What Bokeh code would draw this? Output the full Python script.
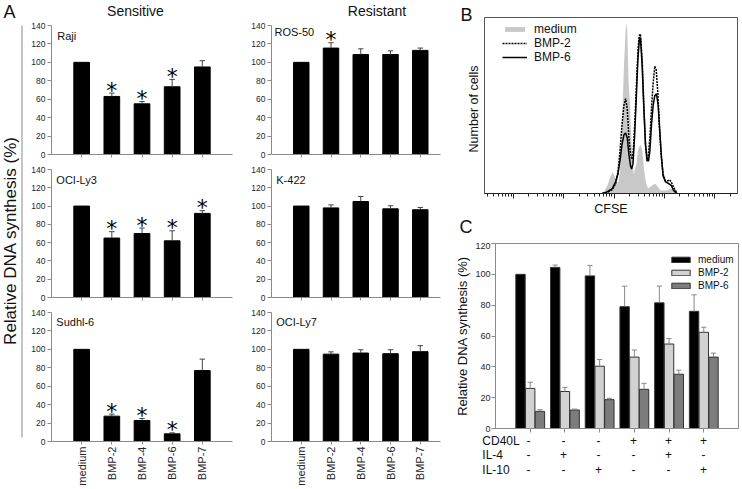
import math
from bokeh.plotting import figure
from bokeh.layouts import row, column
from bokeh.models import (Range1d, FixedTicker, Label, Legend, LegendItem, BoxAnnotation,
                          CustomJSTickFormatter)
from bokeh.embed import file_html
from bokeh.resources import INLINE
from bokeh.core.properties import value

FONT = "Liberation Sans"
GREY_AX = "#8a8a8a"
TXT = "#262626"

# ---------------- Panel A data ----------------
treatments = ["medium", "BMP-2", "BMP-4", "BMP-6", "BMP-7"]
a_ticks = [0, 20, 40, 60, 80, 100, 120, 140]

raji = [100, 63, 55, 73.5, 95]
raji_sd = [0, 3.6, 2.5, 8, 6.8]
raji_sig = [0, 1, 1, 1, 0]

ros50 = [100, 115.5, 108.5, 108.5, 113]
ros50_sd = [0, 5.8, 6.2, 4, 2.5]
ros50_sig = [0, 1, 0, 0, 0]

ocily3 = [100, 65, 70, 62, 92]
ocily3_sd = [0, 7, 6, 11, 3]
ocily3_sig = [0, 1, 1, 1, 1]

k422 = [100, 98, 105, 97, 96]
k422_sd = [0, 3.3, 5.5, 3.4, 2.5]
k422_sig = [0, 0, 0, 0, 0]

sudhl6 = [100, 27.5, 22.8, 8.3, 77]
sudhl6_sd = [0, 2.2, 2.2, 1.1, 12.4]
sudhl6_sig = [0, 1, 1, 1, 0]

ocily7 = [100, 94.8, 96, 95.3, 97.5]
ocily7_sd = [0, 2.5, 3.6, 4.3, 6.5]
ocily7_sig = [0, 0, 0, 0, 0]

# ---------------- Panel B data (log10 CFSE, cell count) ----------------
med_log = [2.730, 2.796, 2.862, 2.928, 2.974, 3.027, 3.073, 3.113, 3.153, 3.192, 3.225, 3.238,
           3.258, 3.285, 3.311, 3.338, 3.364, 3.390, 3.437, 3.476, 3.516, 3.555, 3.595, 3.635,
           3.674, 3.720, 3.773, 3.819, 3.866, 3.918, 3.984, 4.050, 4.130, 4.182, 4.248]
med_cnt = [0, 2, 8, 18, 22, 15, 10, 23, 70, 130, 167, 175,
           167, 113, 93, 57, 30, 20, 30, 45, 50, 45, 23, 10,
           5, 7, 9, 10, 7, 3, 3, 3, 5, 3, 0]

bmp6_log = [2.760, 2.829, 2.895, 2.961, 3.027, 3.073, 3.113, 3.153, 3.192, 3.225, 3.258, 3.291,
            3.324, 3.344, 3.371, 3.403, 3.437, 3.469, 3.503, 3.522, 3.555, 3.588, 3.621, 3.654,
            3.681, 3.707, 3.740, 3.773, 3.806, 3.839, 3.873, 3.906, 3.938, 3.971, 4.017, 4.083,
            4.136, 4.182, 4.248]
bmp6_cnt = [0, 1, 3, 5, 12, 20, 33, 50, 60, 62, 57, 40,
            28, 25, 30, 57, 97, 137, 160, 158, 130, 87, 50, 35,
            33, 43, 70, 90, 100, 102, 90, 63, 37, 18, 12, 10,
            8, 3, 0]

bmp2_log = [2.760, 2.829, 2.895, 2.961, 3.027, 3.073, 3.113, 3.153, 3.192, 3.225, 3.258, 3.291,
            3.324, 3.351, 3.377, 3.410, 3.443, 3.476, 3.503, 3.522, 3.555, 3.588, 3.621, 3.648,
            3.674, 3.707, 3.740, 3.773, 3.806, 3.833, 3.866, 3.899, 3.932, 3.971, 4.017, 4.064,
            4.103, 4.149, 4.196, 4.248]
bmp2_cnt = [0, 0.3, 2, 4, 10, 22, 43, 70, 90, 97, 87, 57,
            40, 35, 43, 73, 113, 150, 163, 162, 137, 90, 50, 33,
            37, 57, 87, 113, 130, 127, 103, 67, 40, 20, 13, 13,
            14, 10, 5, 0]

# ---------------- Panel C data ----------------
c_conditions = [1, 2, 3, 4, 5, 6]
c_medium = [100, 104.5, 99, 79, 81.5, 76]
c_medium_sd = [0, 1.5, 6.8, 13.3, 10.9, 10.7]
c_bmp2 = [26, 24, 40.4, 46.3, 54.8, 62.4]
c_bmp2_sd = [4, 2.7, 4.4, 4.6, 3.5, 3.3]
c_bmp6 = [11.1, 12, 18.7, 25.4, 35.2, 46.3]
c_bmp6_sd = [1.1, 0.6, 0.9, 3.9, 2.6, 2.6]
c_ticks = [0, 20, 40, 60, 80, 100, 120]
table_rows = ["CD40L", "IL-4", "IL-10"]
cd40l = ["-", "-", "-", "+", "+", "+"]
il4 = ["-", "+", "-", "-", "+", "-"]
il10 = ["-", "-", "+", "-", "-", "+"]

BLANK = CustomJSTickFormatter(code="return ''")


def base_fig(width, height, xr, yr, left, right, top, bottom, **kw):
    p = figure(width=width, height=height, x_range=xr, y_range=yr,
               output_backend="svg", toolbar_location=None, frame_align=False,
               min_border_left=left, min_border_right=right,
               min_border_top=top, min_border_bottom=bottom,
               background_fill_color="white", border_fill_color="white", **kw)
    p.xgrid.visible = False
    p.ygrid.visible = False
    return p


def strip(width, height):
    """A blank canvas measured in pixels (y downwards) for free-standing texts."""
    p = figure(width=width, height=height, x_range=Range1d(0, width), y_range=Range1d(height, 0),
               output_backend="svg", toolbar_location=None, min_border=0, frame_align=False,
               x_axis_location=None, y_axis_location=None, outline_line_color=None,
               background_fill_color="white", border_fill_color="white")
    p.xgrid.visible = False
    p.ygrid.visible = False
    return p


def txt(p, x, y, text, size, align="left", baseline="middle", angle=0.0):
    p.add_layout(Label(x=x, y=y, text=text, text_font=FONT, text_font_size=size,
                       text_color="#111111", text_align=align, text_baseline=baseline,
                       angle=angle))


def hide_labels(ax):
    ax.formatter = BLANK
    ax.major_label_text_font_size = "1px"
    ax.major_label_standoff = 0


def a_panel(name, vals, sd, sig, width, height, xmax, border, show_x, name_pos):
    left, right, top, bottom = border
    p = base_fig(width, height, Range1d(0, xmax), Range1d(0, 140), left, right, top, bottom)
    p.outline_line_color = None
    xs = [i + 1 for i in range(len(treatments))]
    p.vbar(x=xs, top=vals, bottom=0, width=0.52, fill_color="black", line_color="black")
    ex = [x for x, s in zip(xs, sd) if s > 0]
    ey0 = [v for v, s in zip(vals, sd) if s > 0]
    ey1 = [v + s for v, s in zip(vals, sd) if s > 0]
    p.segment(x0=ex, y0=ey0, x1=ex, y1=ey1, line_color="#444444", line_width=1)
    p.segment(x0=[x - 0.09 for x in ex], y0=ey1, x1=[x + 0.09 for x in ex], y1=ey1,
              line_color="#444444", line_width=1)
    sx = [x for x, g in zip(xs, sig) if g]
    sy = [v + s for v, s, g in zip(vals, sd, sig) if g]
    if sx:
        p.text(x=sx, y=sy, text=["*"] * len(sx), text_font=value("DejaVu Sans"),
               text_font_size="22px", text_align="center", text_baseline="middle",
               y_offset=-3, text_color="#000000")
    yax = p.yaxis[0]
    yax.ticker = FixedTicker(ticks=a_ticks)
    yax.major_tick_out = 4
    yax.major_tick_in = 0
    yax.minor_tick_out = 0
    yax.minor_tick_in = 0
    yax.axis_line_color = GREY_AX
    yax.major_tick_line_color = GREY_AX
    yax.major_label_text_font = FONT
    yax.major_label_text_font_size = "8.5px"
    yax.major_label_text_color = TXT
    yax.major_label_standoff = 2
    xax = p.xaxis[0]
    xax.ticker = FixedTicker(ticks=xs)
    xax.major_tick_out = 3
    xax.major_tick_in = 0
    xax.minor_tick_out = 0
    xax.minor_tick_in = 0
    xax.axis_line_color = GREY_AX
    xax.major_tick_line_color = GREY_AX
    if show_x:
        xax.major_label_overrides = {x: t for x, t in zip(xs, treatments)}
        xax.major_label_orientation = math.pi / 2
        xax.major_label_text_font = FONT
        xax.major_label_text_font_size = "11px"
        xax.major_label_text_color = TXT
        xax.major_label_standoff = 2
    else:
        hide_labels(xax)
    p.add_layout(Label(x=name_pos[0], y=name_pos[1], text=name, text_font=FONT,
                       text_font_size="11px", text_color="#111111", text_baseline="top"))
    return p


TOTAL_H = 489

# ---------------- label strip for panel A ----------------
pl = strip(28, TOTAL_H)
txt(pl, 3, 11.5, "A", "18px")
txt(pl, 9.5, 240, "Relative DNA synthesis (%)", "17px", align="center", angle=math.pi / 2)
pl.add_layout(BoxAnnotation(left=21, right=22, top=25, bottom=437,
                            fill_color="#8a8a8a", fill_alpha=1, line_color=None))

# ---------------- panel A grids ----------------
hA1 = strip(220, 18)
txt(hA1, 107, 10, "Sensitive", "14px", align="center")
hA2 = strip(204, 18)
txt(hA2, 128.5, 10, "Resistant", "14px", align="center")

a1 = a_panel("Raji", raji, raji_sd, raji_sig, 220, 143, 6.0, (19, 16, 7, 7), False, (0.19, 134.6))
a2 = a_panel("OCI-Ly3", ocily3, ocily3_sd, ocily3_sig, 220, 143, 6.0, (19, 16, 8, 7), False,
             (0.16, 135.6))
a3 = a_panel("Sudhl-6", sudhl6, sudhl6_sd, sudhl6_sig, 220, 185, 6.0, (19, 16, 8, 48), True,
             (0.16, 136.7))
b1 = a_panel("ROS-50", ros50, ros50_sd, ros50_sig, 204, 143, 5.68, (17, 12, 7, 7), False,
             (0.1, 139.8))
b2 = a_panel("K-422", k422, k422_sd, k422_sig, 204, 143, 5.68, (17, 12, 8, 7), False,
             (0.16, 135.6))
b3 = a_panel("OCI-Ly7", ocily7, ocily7_sd, ocily7_sig, 204, 185, 5.68, (17, 12, 8, 48), True,
             (0.16, 136.7))

# ---------------- panel B ----------------
sB = strip(31, 218)
txt(sB, 8, 14, "B", "18px")
txt(sB, 21, 108.5, "Number of cells", "12.5px", align="center", angle=math.pi / 2)

pB = base_fig(259, 218, Range1d(10 ** 0.42, 10 ** 5.45), Range1d(0, 180), 1, 5, 17, 22,
              x_axis_type="log", y_axis_location=None)
pB.outline_line_color = "#555555"
r_med = pB.varea(x=[10 ** v for v in med_log], y1=[0] * len(med_log), y2=med_cnt,
                 fill_color="#c8c8c8", fill_alpha=1)
r_b2 = pB.line(x=[10 ** v for v in bmp2_log], y=bmp2_cnt, line_color="black",
               line_width=1.5, line_dash="2 1")
r_b6 = pB.line(x=[10 ** v for v in bmp6_log], y=bmp6_cnt, line_color="black", line_width=1.5)
xb = pB.xaxis[0]
hide_labels(xb)
xb.axis_label = "CFSE"
xb.axis_label_text_font = FONT
xb.axis_label_text_font_size = "12.5px"
xb.axis_label_text_font_style = "normal"
xb.axis_label_text_color = "#111111"
xb.axis_label_standoff = 3
xb.major_tick_out = 5
xb.major_tick_in = 0
xb.minor_tick_out = 3
xb.minor_tick_in = 0
xb.axis_line_color = "#222222"
xb.major_tick_line_color = "#222222"
xb.minor_tick_line_color = "#222222"
legB = Legend(items=[LegendItem(label="medium", renderers=[r_med]),
                     LegendItem(label="BMP-2", renderers=[r_b2]),
                     LegendItem(label="BMP-6", renderers=[r_b6])],
              location=(18, 129), glyph_width=25, glyph_height=6, label_height=13,
              spacing=0, padding=2, margin=0, label_standoff=7,
              label_text_font=FONT, label_text_font_size="12px", label_text_color="#111111",
              background_fill_alpha=0, border_line_color=None)
pB.add_layout(legB)

# ---------------- panel C ----------------
sC = strip(290, 24)
txt(sC, 7, 8.5, "C", "18px")

pC = base_fig(290, 191, Range1d(0, 7), Range1d(0, 120), 41, 4, 1, 5)
pC.outline_line_color = GREY_AX
off = 0.28
series = [(c_medium, c_medium_sd, -off, "black", "medium"),
          (c_bmp2, c_bmp2_sd, 0.0, "#d2d2d2", "BMP-2"),
          (c_bmp6, c_bmp6_sd, off, "#7c7c7c", "BMP-6")]
c_items = []
for vals, sd, dx, col, lab in series:
    xs = [c + dx for c in c_conditions]
    r = pC.vbar(x=xs, top=vals, bottom=0, width=0.27, fill_color=col, line_color="#333333",
                line_width=1)
    c_items.append(LegendItem(label=lab, renderers=[r]))
    ex = [x for x, s in zip(xs, sd) if s > 0]
    ey0 = [v for v, s in zip(vals, sd) if s > 0]
    ey1 = [v + s for v, s in zip(vals, sd) if s > 0]
    pC.segment(x0=ex, y0=ey0, x1=ex, y1=ey1, line_color="#888888", line_width=1)
    pC.segment(x0=[x - 0.075 for x in ex], y0=ey1, x1=[x + 0.075 for x in ex], y1=ey1,
               line_color="#888888", line_width=1)
yc = pC.yaxis[0]
yc.ticker = FixedTicker(ticks=c_ticks)
yc.major_tick_out = 4
yc.major_tick_in = 0
yc.minor_tick_out = 0
yc.minor_tick_in = 0
yc.axis_line_color = GREY_AX
yc.major_tick_line_color = GREY_AX
yc.major_label_text_font = FONT
yc.major_label_text_font_size = "9px"
yc.major_label_text_color = TXT
yc.major_label_standoff = 1
yc.axis_label = "Relative DNA synthesis (%)"
yc.axis_label_text_font = FONT
yc.axis_label_text_font_size = "13px"
yc.axis_label_text_font_style = "normal"
yc.axis_label_text_color = "#111111"
yc.axis_label_standoff = 2
xc = pC.xaxis[0]
xc.ticker = FixedTicker(ticks=c_conditions)
xc.major_tick_out = 4
xc.major_tick_in = 0
xc.minor_tick_out = 0
xc.minor_tick_in = 0
xc.axis_line_color = GREY_AX
xc.major_tick_line_color = GREY_AX
hide_labels(xc)
legC = Legend(items=c_items, location=(174, 137), glyph_width=23, glyph_height=7,
              label_height=12, spacing=1, padding=2, margin=0, label_standoff=6,
              label_text_font=FONT, label_text_font_size="10px", label_text_color="#111111",
              background_fill_alpha=0, border_line_color=None)
pC.add_layout(legC)

# ---------------- condition table under C ----------------
pT = figure(width=290, height=56, x_range=Range1d(-15 / 35, 7), y_range=Range1d(56, 0),
            output_backend="svg", toolbar_location=None, frame_align=False,
            min_border_left=26, min_border_right=4, min_border_top=0, min_border_bottom=0,
            x_axis_location=None, y_axis_location=None, outline_line_color=None,
            background_fill_color="white", border_fill_color="white")
pT.xgrid.visible = False
pT.ygrid.visible = False
row_y = [7, 21, 36]
pT.text(x=[-0.32] * 3, y=row_y, text=table_rows, text_font=value(FONT), text_font_size="12px",
        text_align="left", text_baseline="middle", text_color="#111111")
for signs, yy in zip([cd40l, il4, il10], row_y):
    pT.text(x=c_conditions, y=[yy] * len(signs), text=signs, text_font=value(FONT),
            text_font_size="12px", text_align="center", text_baseline="middle",
            text_color="#111111")

layout = row(pl,
             column(hA1, a1, a2, a3),
             column(hA2, b1, b2, b3),
             column(row(sB, pB), sC, pC, pT))
open("out.html", "w").write(file_html(layout, INLINE))
